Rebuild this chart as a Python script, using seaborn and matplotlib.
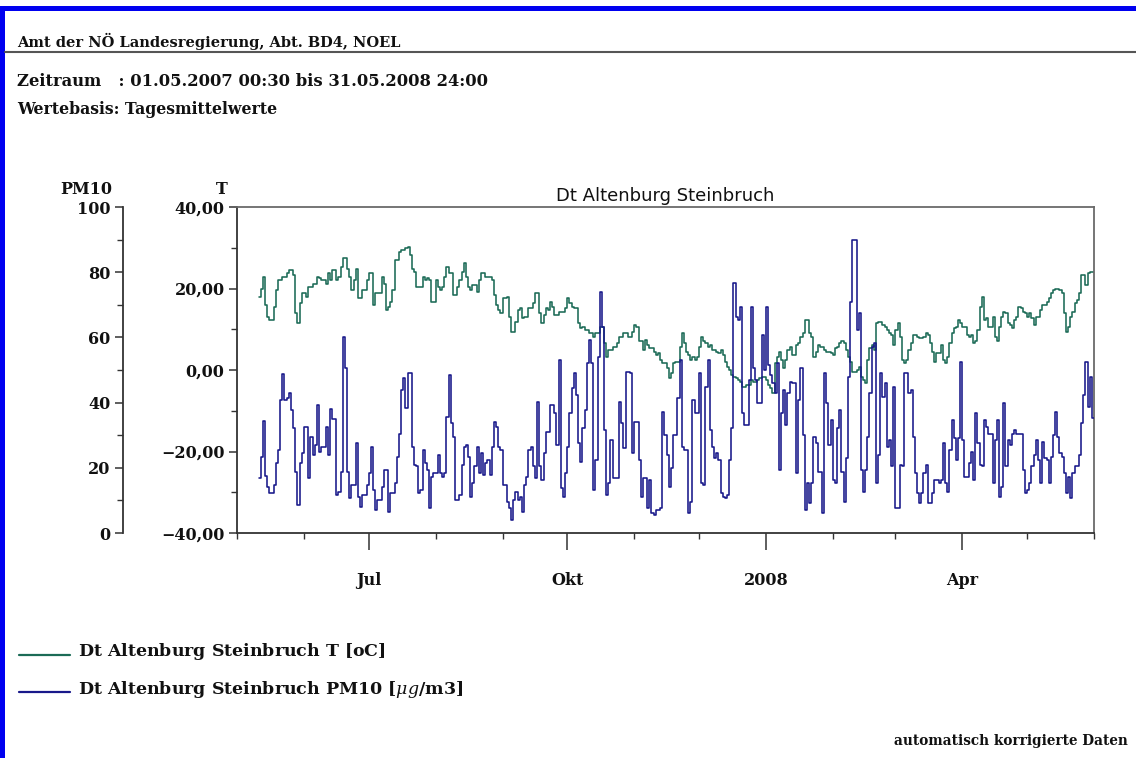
import numpy as np
import pandas as pd
import matplotlib
matplotlib.use("Agg")
import matplotlib.pyplot as plt
import matplotlib.dates as mdates
from matplotlib.lines import Line2D
from matplotlib.patches import Rectangle
from matplotlib.ticker import FuncFormatter, MultipleLocator
import seaborn as sns

# ---------------------------------------------------------------------------
# Tagesmittelwerte, Messstelle Dt Altenburg Steinbruch (ab 11.05.2007)
# ---------------------------------------------------------------------------
first_day = "2007-05-11"
period_start = "2007-05-01"
period_end = "2008-06-01"

# Lufttemperatur T [oC], one list per month
t_2007_05 = [18.0, 20.0, 22.9, 16.0, 13.1, 12.3, 12.3, 15.5, 19.6, 22.1, 22.1, 22.9, 22.9, 23.7, 24.5, 24.5, 23.3, 13.9, 11.5, 16.4, 18.8]
t_2007_06 = [18.8, 18.0, 20.4, 20.4, 21.2, 21.2, 22.9, 22.5, 22.1, 22.1, 21.2, 23.7, 22.1, 24.5, 24.5, 22.1, 22.9, 25.3, 27.4, 27.4, 24.9, 22.9, 19.6, 22.1, 24.9, 17.6, 17.6, 19.6, 19.6, 22.1]
t_2007_07 = [23.7, 23.7, 16.0, 18.8, 18.8, 18.8, 22.9, 21.2, 14.7, 15.5, 16.8, 19.6, 27.0, 27.0, 29.0, 29.5, 29.5, 29.9, 30.3, 28.2, 24.9, 24.1, 20.4, 20.4, 20.4, 22.9, 22.1, 22.5, 22.1, 16.8, 16.8]
t_2007_08 = [22.1, 20.4, 19.6, 20.4, 22.9, 25.3, 23.7, 23.7, 18.4, 18.4, 20.4, 22.1, 24.1, 26.2, 22.9, 20.4, 19.6, 20.8, 20.8, 19.2, 22.1, 23.7, 23.7, 22.9, 22.9, 22.9, 22.1, 18.4, 16.0, 14.7, 13.9]
t_2007_09 = [17.6, 17.6, 18.0, 13.1, 9.4, 9.4, 11.9, 14.7, 15.1, 12.7, 13.1, 13.1, 15.1, 15.1, 16.4, 18.8, 18.8, 13.9, 11.5, 13.5, 15.1, 14.7, 16.8, 15.5, 13.5, 13.5, 14.3, 14.3, 14.3, 15.1]
t_2007_10 = [17.6, 16.4, 15.5, 15.1, 15.1, 11.5, 10.2, 10.6, 9.8, 9.8, 9.0, 9.0, 8.2, 9.0, 9.0, 10.6, 10.6, 6.6, 3.3, 4.9, 4.9, 5.7, 5.7, 6.6, 8.2, 8.2, 9.0, 9.0, 8.2, 8.2, 9.4]
t_2007_11 = [11.0, 10.6, 7.0, 7.0, 4.9, 7.4, 6.1, 5.3, 5.3, 4.5, 3.7, 4.1, 2.5, 1.6, 1.6, 0.4, -2.0, -0.8, 1.6, 2.0, 2.0, 5.7, 9.0, 6.6, 4.5, 3.7, 2.5, 3.3, 2.5, 3.3]
t_2007_12 = [5.7, 8.2, 7.0, 6.6, 5.7, 6.1, 4.9, 4.9, 4.5, 4.1, 4.9, 3.7, 2.0, 0.8, 0.0, -1.2, -1.6, -2.0, -2.5, -2.9, -4.1, -4.1, -3.7, -3.7, -2.5, -2.9, -2.9, -2.5, -2.0, -1.6, -1.6]
t_2008_01 = [-2.5, -3.7, -4.5, -5.7, 1.6, 3.3, 4.5, 2.5, 0.4, 2.5, 4.9, 5.7, 3.7, 3.7, 6.1, 6.6, 8.2, 9.0, 12.3, 12.3, 9.0, 8.2, 3.3, 4.5, 6.1, 5.7, 5.7, 4.9, 4.5, 4.5, 4.1]
t_2008_02 = [3.7, 5.3, 5.7, 6.6, 7.0, 6.6, 4.9, 3.3, 2.0, -0.4, -0.4, 0.0, 0.8, -1.6, -2.5, -3.3, 2.5, 5.3, 6.1, 4.9, 11.5, 11.9, 11.9, 11.0, 10.6, 9.8, 9.0, 8.6, 6.1]
t_2008_03 = [9.8, 11.5, 8.2, 2.5, 1.6, 2.5, 4.9, 6.6, 8.6, 8.6, 8.2, 7.8, 7.8, 8.2, 9.0, 8.6, 6.6, 4.5, 2.0, 4.1, 4.1, 6.1, 2.5, 1.6, 3.3, 6.6, 9.0, 10.2, 10.6, 12.3, 11.5]
t_2008_04 = [10.6, 10.6, 8.6, 8.2, 8.6, 6.6, 7.0, 9.8, 15.5, 18.0, 12.3, 12.7, 10.6, 10.6, 13.1, 8.2, 7.0, 10.6, 13.1, 14.3, 13.9, 11.5, 11.0, 10.2, 12.3, 13.1, 15.5, 15.1, 14.3, 13.9]
t_2008_05 = [13.1, 13.9, 12.7, 11.0, 13.1, 13.1, 14.7, 16.0, 16.0, 16.8, 17.6, 18.8, 19.6, 20.0, 20.0, 19.6, 18.8, 13.9, 9.4, 10.6, 13.1, 14.3, 16.4, 17.2, 18.8, 23.3, 23.3, 20.8, 23.7, 24.1, 24.1]

# Feinstaub PM10 [ug/m3], one list per month
pm_2007_05 = [17.0, 23.4, 34.5, 17.5, 14.2, 12.2, 12.2, 14.7, 21.4, 25.5, 40.8, 48.8, 40.8, 41.3, 42.8, 37.7, 32.1, 18.8, 8.6, 21.4, 24.4]
pm_2007_06 = [32.6, 32.6, 16.8, 29.6, 24.0, 27.0, 39.3, 25.0, 26.5, 26.5, 32.6, 24.0, 37.9, 34.9, 34.9, 11.7, 12.7, 18.8, 60.2, 50.5, 18.8, 10.6, 14.7, 14.7, 27.5, 11.1, 8.1, 11.7, 11.7, 14.7]
pm_2007_07 = [18.3, 26.5, 13.2, 7.0, 10.1, 10.1, 14.2, 19.3, 19.3, 6.5, 12.2, 12.2, 15.2, 23.4, 30.5, 43.9, 47.4, 38.2, 49.0, 49.0, 26.5, 20.9, 20.4, 12.2, 13.2, 25.5, 21.4, 19.3, 7.6, 17.3, 18.3]
pm_2007_08 = [18.3, 23.9, 18.3, 17.3, 18.3, 35.7, 48.5, 33.6, 29.5, 10.1, 10.1, 11.6, 20.9, 26.5, 27.0, 23.4, 11.1, 15.2, 20.4, 26.5, 18.3, 24.4, 17.8, 21.4, 22.4, 17.8, 26.5, 34.1, 32.6, 26.5, 25.5]
pm_2007_09 = [14.7, 14.7, 9.6, 7.6, 4.0, 10.1, 12.7, 10.1, 11.1, 6.5, 14.7, 17.3, 25.5, 26.5, 20.4, 16.8, 40.3, 20.4, 16.3, 24.4, 31.1, 31.1, 39.3, 39.3, 36.7, 27.0, 53.1, 13.7, 11.1, 18.3]
pm_2007_10 = [26.5, 36.7, 44.4, 49.0, 42.3, 27.5, 21.9, 32.1, 37.7, 52.0, 59.2, 52.0, 13.2, 22.4, 54.1, 74.0, 63.3, 31.6, 11.6, 15.2, 28.5, 16.8, 16.8, 16.8, 40.3, 33.6, 26.0, 49.5, 49.5, 49.0, 24.4]
pm_2007_11 = [34.1, 34.1, 22.4, 11.1, 16.8, 16.8, 7.6, 16.3, 6.0, 5.5, 7.0, 7.0, 7.6, 37.2, 30.0, 24.0, 14.0, 20.0, 30.0, 30.0, 41.3, 53.1, 26.5, 25.5, 25.5, 6.0, 9.6, 40.8, 36.7, 36.7]
pm_2007_12 = [49.0, 15.2, 14.7, 44.9, 53.1, 31.6, 26.5, 22.9, 24.4, 22.4, 12.2, 11.1, 10.6, 11.6, 22.4, 32.1, 76.6, 66.4, 65.3, 69.4, 36.7, 33.1, 33.1, 46.9, 69.4, 50.5, 46.9, 39.8, 39.8, 60.7, 50.0]
pm_2008_01 = [69.4, 51.5, 48.5, 45.9, 42.8, 52.0, 19.3, 36.7, 43.9, 33.1, 42.8, 46.4, 45.9, 45.9, 18.3, 40.8, 50.5, 30.0, 7.0, 15.2, 9.1, 15.2, 29.5, 27.5, 18.8, 18.8, 6.0, 49.0, 39.8, 27.0, 34.7]
pm_2008_02 = [16.3, 15.2, 32.1, 37.7, 18.8, 9.6, 22.9, 47.9, 70.9, 89.9, 89.9, 62.3, 67.4, 19.3, 12.7, 19.3, 29.5, 42.8, 57.2, 58.2, 15.2, 23.9, 49.0, 41.8, 45.9, 26.5, 28.5, 20.4, 44.9]
pm_2008_03 = [7.6, 7.6, 21.0, 20.4, 49.0, 49.0, 42.8, 43.9, 29.5, 18.3, 12.2, 9.1, 12.2, 18.3, 20.9, 9.1, 9.1, 12.2, 16.3, 16.3, 15.2, 16.3, 27.5, 15.2, 12.7, 25.5, 34.7, 29.0, 22.4, 29.0, 52.6]
pm_2008_04 = [28.5, 17.3, 17.3, 21.4, 25.0, 16.3, 36.7, 27.5, 20.9, 20.4, 34.7, 32.6, 30.5, 30.5, 15.2, 28.5, 34.7, 11.1, 14.2, 39.8, 20.4, 28.5, 27.0, 30.5, 31.6, 30.5, 30.5, 30.5, 19.3, 12.2]
pm_2008_05 = [13.2, 15.2, 20.4, 23.9, 28.5, 22.4, 15.2, 28.0, 22.9, 22.4, 15.2, 23.4, 30.0, 37.2, 29.5, 24.4, 23.4, 18.3, 12.2, 17.3, 10.6, 18.3, 20.4, 20.4, 23.9, 33.6, 42.3, 52.6, 38.7, 47.9, 35.2]

temperature = (t_2007_05 + t_2007_06 + t_2007_07 + t_2007_08 + t_2007_09 + t_2007_10 + t_2007_11
               + t_2007_12 + t_2008_01 + t_2008_02 + t_2008_03 + t_2008_04 + t_2008_05)
pm10 = (pm_2007_05 + pm_2007_06 + pm_2007_07 + pm_2007_08 + pm_2007_09 + pm_2007_10 + pm_2007_11
        + pm_2007_12 + pm_2008_01 + pm_2008_02 + pm_2008_03 + pm_2008_04 + pm_2008_05)

month_names = {1: None, 4: "Apr", 7: "Jul", 10: "Okt"}
t_ticks = [-40, -20, 0, 20, 40]
pm_ticks = [0, 20, 40, 60, 80, 100]

header = "Amt der NÖ Landesregierung, Abt. BD4, NOEL"
period_text = "Zeitraum   : 01.05.2007 00:30 bis 31.05.2008 24:00"
basis_text = "Wertebasis: Tagesmittelwerte"
station = "Dt Altenburg Steinbruch"
legend_t = "Dt Altenburg Steinbruch $\\mathbf{T}$ [oC]"
legend_pm = "Dt Altenburg Steinbruch PM10 [$\\mu g$/m3]"
footer = "automatisch korrigierte Daten"

# ---------------------------------------------------------------------------
dates = pd.date_range(first_day, periods=len(temperature), freq="D")
daily = pd.DataFrame({"Datum": dates, "T": temperature, "PM10": pm10})
# each daily mean holds until the end of its day
tail = pd.DataFrame({"Datum": [pd.Timestamp(period_end)], "T": [temperature[-1]], "PM10": [pm10[-1]]})
steps = pd.concat([daily, tail], ignore_index=True)

sns.set_theme(style="white")
plt.rcParams["font.family"] = ["DejaVu Serif"]
plt.rcParams["mathtext.fontset"] = "dejavuserif"

GREEN = "#1b6b56"
BLUE = "#18188a"
AXIS = "#333333"
INK = "#111111"
W, H = 1136, 758

fig = plt.figure(figsize=(W / 100, H / 100), dpi=100)
fig.patch.set_facecolor("white")

def fx(px):
    return px / W

def fy(py):
    return 1 - py / H

ax = fig.add_axes([fx(237), fy(533), fx(1094) - fx(237), fy(207) - fy(533)])
ax2 = ax.twinx()

sns.lineplot(data=steps, x="Datum", y="T", ax=ax, drawstyle="steps-post",
             color=GREEN, linewidth=1.15, estimator=None)
sns.lineplot(data=steps, x="Datum", y="PM10", ax=ax2, drawstyle="steps-post",
             color=BLUE, linewidth=1.15, estimator=None)

ax.set_xlim(pd.Timestamp(period_start), pd.Timestamp(period_end))
ax.set_ylim(-40, 40)
ax2.set_ylim(0, 100)
ax.set_xlabel("")
ax.set_ylabel("")
ax2.set_ylabel("")

# frame
for name, sp in ax.spines.items():
    sp.set_visible(True)
    sp.set_color(AXIS if name in ("left", "bottom") else "#6a6a6a")
    sp.set_linewidth(1.3)
for name in ("top", "bottom", "right"):
    ax2.spines[name].set_visible(False)
ax2.spines["left"].set_visible(True)
ax2.spines["left"].set_position(("axes", (123 - 237) / (1094 - 237)))
ax2.spines["left"].set_color(AXIS)
ax2.spines["left"].set_linewidth(1.3)
ax2.yaxis.set_ticks_position("left")
ax2.yaxis.set_label_position("left")

tick_size = 11.5

# temperature axis
ax.set_yticks(t_ticks)
ax.yaxis.set_minor_locator(MultipleLocator(10))
ax.yaxis.set_major_formatter(FuncFormatter(
    lambda v, p: f"{v:.2f}".replace(".", ",").replace("-", "\u2212")))
ax.tick_params(axis="y", which="major", direction="out", length=6, width=1.1,
               color=AXIS, pad=3, left=True, right=False)
ax.tick_params(axis="y", which="minor", direction="out", length=4, width=1.0,
               color=AXIS, left=True, right=False)

# PM10 axis
ax2.set_yticks(pm_ticks)
ax2.yaxis.set_minor_locator(MultipleLocator(10))
ax2.yaxis.set_major_formatter(FuncFormatter(lambda v, p: f"{v:.0f}"))
ax2.tick_params(axis="y", which="major", direction="out", length=6, width=1.1,
                color=AXIS, pad=3, left=True, right=False)
ax2.tick_params(axis="y", which="minor", direction="out", length=4, width=1.0,
                color=AXIS, left=True, right=False)

# time axis
ax.xaxis.set_major_locator(mdates.MonthLocator(bymonth=[1, 4, 7, 10]))
ax.xaxis.set_minor_locator(mdates.MonthLocator())

def month_label(v, p):
    d = mdates.num2date(v)
    name = month_names.get(d.month)
    return str(d.year) if name is None else name

ax.xaxis.set_major_formatter(FuncFormatter(month_label))
ax.tick_params(axis="x", which="major", direction="out", length=12, width=1.1,
               color=AXIS, pad=16, bottom=True, top=False)
ax.tick_params(axis="x", which="minor", direction="out", length=4.5, width=1.0,
               color=AXIS, bottom=True, top=False)

for lab in ax.get_xticklabels() + ax.get_yticklabels() + ax2.get_yticklabels():
    lab.set_fontfamily("DejaVu Serif")
    lab.set_fontweight("bold")
    lab.set_fontsize(tick_size)
    lab.set_color(INK)

ax.grid(False)
ax2.grid(False)
ax.patch.set_alpha(0)

# axis names above the two value axes
fig.text(fx(86), fy(189), "PM10", ha="center", va="center", fontsize=11.5, weight="bold", color=INK)
fig.text(fx(222), fy(189), "T", ha="center", va="center", fontsize=11.5, weight="bold", color=INK)

# station title
ax.set_title(station, fontsize=13, family="DejaVu Sans", color=INK, pad=4)

# page header
fig.text(fx(17), fy(41), header, ha="left", va="center", fontsize=10.5, weight="bold", color=INK)
fig.add_artist(Line2D([fx(5), 1], [fy(52), fy(52)], color="#555555", linewidth=1.5))
fig.text(fx(17), fy(82), period_text, ha="left", va="center", fontsize=11.8, weight="bold", color=INK)
fig.text(fx(17), fy(110), basis_text, ha="left", va="center", fontsize=11.3, weight="bold", color=INK)

# legend
fig.add_artist(Line2D([fx(19), fx(70)], [fy(655), fy(655)], color=GREEN, linewidth=1.6))
fig.text(fx(78), fy(652), legend_t, ha="left", va="center", fontsize=12.5, weight="bold", color=INK)
fig.add_artist(Line2D([fx(19), fx(70)], [fy(692), fy(692)], color=BLUE, linewidth=1.6))
fig.text(fx(78), fy(689), legend_pm, ha="left", va="center", fontsize=12.5, weight="bold", color=INK)

# footer
fig.text(fx(1128), fy(741), footer, ha="right", va="center", fontsize=9.8, weight="bold", color=INK)

# blue page frame on the left and top
fig.add_artist(Rectangle((0, fy(11)), 1, fy(6) - fy(11), transform=fig.transFigure,
                         facecolor="#0000f0", edgecolor="none"))
fig.add_artist(Rectangle((0, 0), fx(5), fy(6), transform=fig.transFigure,
                         facecolor="#0000f0", edgecolor="none"))

fig.savefig("out.png", dpi=100, facecolor="white")
